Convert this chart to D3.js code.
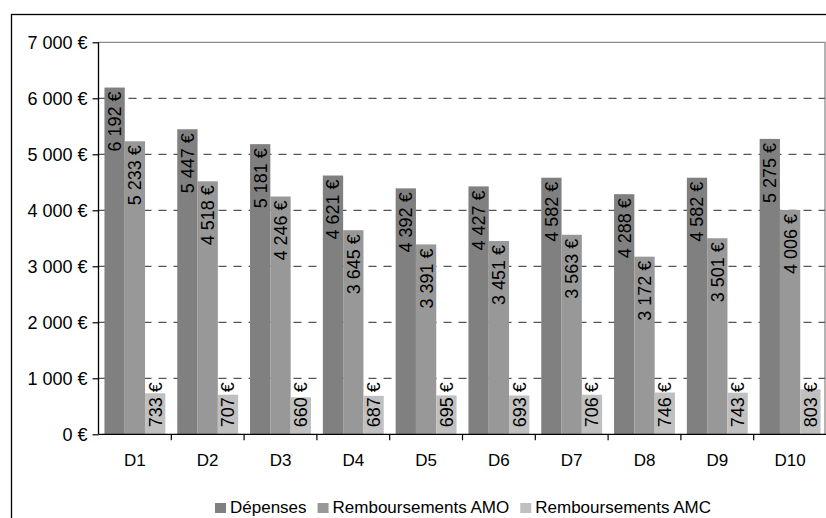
<!DOCTYPE html>
<html>
<head>
<meta charset="utf-8">
<script src="https://cdn.jsdelivr.net/npm/d3@7"></script>
<style>
  html, body { margin: 0; padding: 0; background: #fff; }
  svg { display: block; font-family: "Liberation Sans", Arial, sans-serif; }
</style>
</head>
<body>
<svg id="chart" width="826" height="518"></svg>
<script>
// Dépenses et remboursements moyens par décile
const categories = ["D1", "D2", "D3", "D4", "D5", "D6", "D7", "D8", "D9", "D10"];
const seriesNames = ["Dépenses", "Remboursements AMO", "Remboursements AMC"];
const depenses = [6192, 5447, 5181, 4621, 4392, 4427, 4582, 4288, 4582, 5275];
const rembAMO  = [5233, 4518, 4246, 3645, 3391, 3451, 3563, 3172, 3501, 4006];
const rembAMC  = [733, 707, 660, 687, 695, 693, 706, 746, 743, 803];
const yTicks   = [0, 1000, 2000, 3000, 4000, 5000, 6000, 7000];
const colors   = ["#808080", "#989898", "#c0c0c0"];

const seriesValues = [depenses, rembAMO, rembAMC];

const locale = d3.formatLocale({ decimal: ",", thousands: " ", grouping: [3], currency: ["", " €"] });
const fmt = locale.format("$,.0f");

const svg = d3.select("#chart");

// outer frame of the chart
svg.append("rect")
  .attr("x", 11.5).attr("y", 14.5)
  .attr("width", 840).attr("height", 540)
  .attr("fill", "none").attr("stroke", "#000").attr("stroke-width", 1.3);

const plot = { left: 98.5, right: 826.5, top: 42.3, bottom: 434.3 };

const x = d3.scaleBand().domain(categories).range([plot.left, plot.right]).padding(0);
const xs = d3.scaleBand().domain(seriesNames).range([0, x.bandwidth()])
  .paddingInner(0).paddingOuter(0.293);
const y = d3.scaleLinear().domain([0, 7000]).range([plot.bottom, plot.top]);

// plot area border (top and right)
svg.append("path")
  .attr("d", `M${plot.left},${plot.top}H${plot.right - 1.5}V${plot.bottom}`)
  .attr("fill", "none").attr("stroke", "#8c8c8c").attr("stroke-width", 1.3);

// dashed gridlines
svg.append("g")
  .selectAll("line")
  .data(yTicks.filter(t => t > 0 && t < 7000))
  .join("line")
  .attr("x1", plot.left).attr("x2", plot.right - 1.5)
  .attr("y1", d => y(d)).attr("y2", d => y(d))
  .attr("stroke", "#555").attr("stroke-width", 1.2)
  .attr("stroke-dasharray", "8,7");

// bars
const groups = svg.append("g")
  .selectAll("g")
  .data(categories)
  .join("g")
  .attr("transform", d => `translate(${x(d)},0)`);

const cells = groups.selectAll("g.cell")
  .data((c, i) => seriesNames.map((s, k) => ({ series: s, k, value: seriesValues[k][i] })))
  .join("g").attr("class", "cell");

cells.append("rect")
  .attr("x", d => xs(d.series))
  .attr("y", d => y(d.value))
  .attr("width", xs.bandwidth())
  .attr("height", d => y(0) - y(d.value))
  .attr("fill", d => colors[d.k]);

// rotated value labels
cells.append("text")
  .text(d => fmt(d.value))
  .attr("font-size", 18)
  .attr("fill", "#000")
  .attr("dy", "0.36em")
  .each(function(d) {
    const len = this.getComputedTextLength();
    const h = y(0) - y(d.value);
    const cx = xs(d.series) + xs.bandwidth() / 2;
    const t = d3.select(this);
    if (h >= len + 8) {
      t.attr("text-anchor", "end")
       .attr("transform", `translate(${cx},${y(d.value) + 4}) rotate(-90)`);
    } else {
      t.attr("text-anchor", "start")
       .attr("transform", `translate(${cx},${y(0) - 7}) rotate(-90)`);
    }
  });

// y axis
const yAxis = svg.append("g")
  .attr("transform", `translate(${plot.left},0)`)
  .call(d3.axisLeft(y).tickValues(yTicks).tickFormat(fmt).tickSize(6).tickPadding(5));
yAxis.select(".domain").attr("stroke", "#000").attr("stroke-width", 1.3)
  .attr("d", `M0,${plot.top}V${plot.bottom}`);
yAxis.selectAll(".tick line").attr("stroke", "#000").attr("stroke-width", 1.2);
yAxis.selectAll(".tick text").attr("font-size", 18).attr("fill", "#000")
  .attr("font-family", "Liberation Sans, Arial, sans-serif");

// x axis
const xAxis = svg.append("g")
  .attr("transform", `translate(0,${plot.bottom})`);
xAxis.append("line")
  .attr("x1", plot.left).attr("x2", plot.right)
  .attr("stroke", "#000").attr("stroke-width", 1.3);
xAxis.selectAll("line.tk")
  .data(categories.slice(1))
  .join("line").attr("class", "tk")
  .attr("x1", d => x(d)).attr("x2", d => x(d))
  .attr("y1", 0).attr("y2", 6)
  .attr("stroke", "#000").attr("stroke-width", 1.2);
xAxis.selectAll("text")
  .data(categories)
  .join("text")
  .attr("x", d => x(d) + x.bandwidth() / 2)
  .attr("y", 32)
  .attr("text-anchor", "middle")
  .attr("font-size", 17)
  .attr("fill", "#000")
  .text(d => d);

// legend
const legend = svg.append("g");
const items = legend.selectAll("g")
  .data(seriesNames)
  .join("g");
items.append("rect")
  .attr("width", 11).attr("height", 10)
  .attr("y", 503)
  .attr("fill", (d, i) => colors[i]);
items.append("text")
  .attr("x", 15).attr("y", 513.3)
  .attr("font-size", 17)
  .attr("fill", "#000")
  .text(d => d);
let widths = [];
items.each(function() { widths.push(15 + d3.select(this).select("text").node().getComputedTextLength()); });
const gap = 11;
const total = d3.sum(widths) + gap * (widths.length - 1);
let cursor = 463 - total / 2;
items.attr("transform", (d, i) => {
  const tx = cursor;
  cursor += widths[i] + gap;
  return `translate(${tx},0)`;
});
</script>
</body>
</html>
